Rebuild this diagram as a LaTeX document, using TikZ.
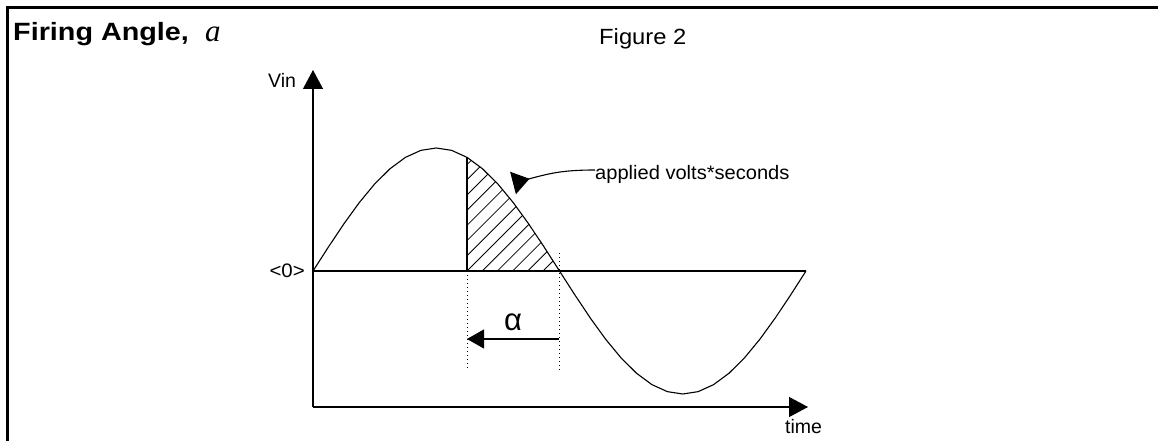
\documentclass[tikz,border=0pt]{standalone}
\usepackage{fontspec}
\setmainfont{Liberation Sans}
\newfontfamily\serifit{Liberation Serif}
\usetikzlibrary{arrows.meta}

\tikzset{
  lbl/.style={inner sep=0pt, font=\fontsize{19.5}{21}\selectfont},
  axis/.style={line width=1.2pt, -{Triangle[length=19pt,width=20pt]}},
  wave/.style={line width=1.1pt},
  guide/.style={line width=1pt, dash pattern=on 1pt off 3pt},
  hatch/.style={line width=0.8pt},
}

\begin{document}
\begin{tikzpicture}[x=1pt,y=-1pt]
\useasboundingbox (0,0) rectangle (1158,441);
% frame
\draw [line width=3pt] (7,441) -- (7,8) -- (1158,8);
% axes
\coordinate (corner) at (313,407);
\coordinate (vtop) at (313,70);
\coordinate (tend) at (808,407);
\coordinate (zero) at (313,271);
\coordinate (zend) at (806,271);
\draw [axis] (corner) to (vtop);
\draw [axis] (corner) to (tend);
\draw [wave] (zero) to (zend);
% applied area
\begin{scope}
\clip (467,271) -- plot[domain=112.5:180, samples=12] ({313+\x/360*493},{271-123*sin(\x)}) -- cycle;
\foreach \k in {-8,...,6}
  \draw [hatch] ({467+15.2*\k},271) -- ++(130,-130);
\end{scope}
\draw [wave] plot[domain=0:360, samples=33] ({313+\x/360*493},{271-123*sin(\x)});
\coordinate (fire) at (467,271);
\coordinate (firetop) at (467,{271-123*sin(112.5)});
\draw [wave] (fire) to (firetop);
% firing delay
\coordinate (f1) at (467,271);
\coordinate (f2) at (467,370);
\coordinate (c1) at (559,253);
\coordinate (c2) at (559,370);
\draw [guide] (f1) to (f2);
\draw [guide] (c1) to (c2);
\coordinate (a1) at (559,339);
\coordinate (a2) at (467,339);
\draw [line width=1.1pt, -{Triangle[length=17pt,width=19pt]}] (a1) to (a2);
\node (alpha) at (513,322) {\fontsize{31}{32}\selectfont α};
% labels
\node [inner sep=0pt, anchor=base west] (title) at (13,41)
  {\scalebox{1.15}[1]{\bfseries\fontsize{25}{27}\selectfont Firing Angle,}};
\node [inner sep=0pt, anchor=base west] (tsym) at (205,42)
  {\serifit\itshape\fontsize{31}{33}\selectfont a};
\node [inner sep=0pt, anchor=base west] (fig) at (599,45)
  {\scalebox{1.08}[1]{\fontsize{22}{24}\selectfont Figure 2}};
\node [lbl, anchor=base west] (vin) at (268,88) {Vin};
\node [lbl, anchor=base east] (zlbl) at (305,277) {\scalebox{1.05}[1]{<0>}};
\node [lbl, anchor=base west] (time) at (785,433) {time};
\node [lbl, anchor=base west] (vs) at (595,179) {\scalebox{1.03}[1]{applied volts*seconds}};
\coordinate (vstip) at (513,183);
\draw [line width=1.1pt, -{Triangle[reversed,length=17pt,width=23pt]}]
  (vs.west |- 0,170) .. controls (560,170) and (548,174) .. (vstip);
\end{tikzpicture}
\end{document}
